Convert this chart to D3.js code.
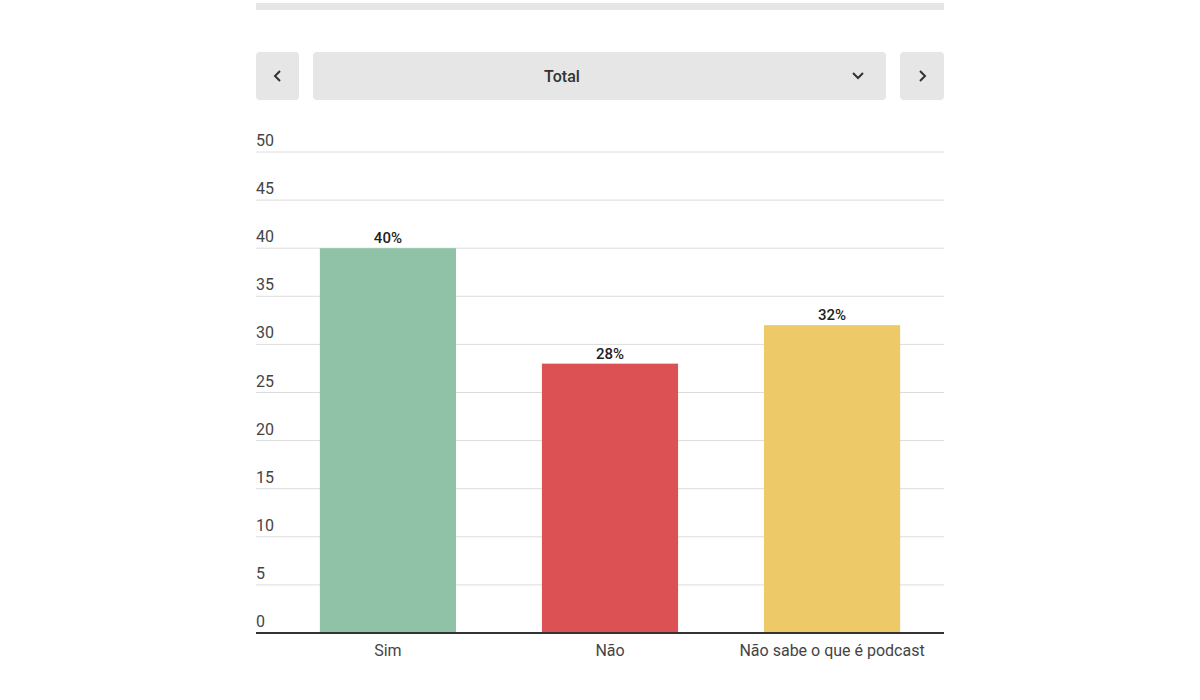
<!DOCTYPE html>
<html><head><meta charset="utf-8">
<script src="https://cdn.jsdelivr.net/npm/d3@7"></script>
<style>body{margin:0;background:#fff;font-family:Roboto,"Noto Sans",sans-serif;}</style>
</head><body><svg id="c" width="1200" height="700"></svg>
<script>
const categories = ["Sim", "Não", "Não sabe o que é podcast"];
const values = [40, 28, 32];
const colors = ["#8fc2a6", "#dc5254", "#eec968"];
const yTicks = [0, 5, 10, 15, 20, 25, 30, 35, 40, 45, 50];
const selectorLabel = "Total";

const svg = d3.select("#c");
const L = 256, R = 944, T = 152, B = 633;
svg.append("rect").attr("x", L).attr("y", 3).attr("width", R - L).attr("height", 7).attr("fill", "#e6e6e6");
// controls
svg.append("rect").attr("x", 256).attr("y", 52).attr("width", 43).attr("height", 48).attr("rx", 4).attr("fill", "#e6e6e6");
svg.append("rect").attr("x", 313).attr("y", 52).attr("width", 573).attr("height", 48).attr("rx", 4).attr("fill", "#e6e6e6");
svg.append("rect").attr("x", 900).attr("y", 52).attr("width", 44).attr("height", 48).attr("rx", 4).attr("fill", "#e6e6e6");
svg.append("path").attr("d", "M280,71 l-5,5 l5,5").attr("fill", "none").attr("stroke", "#333").attr("stroke-width", 2);
svg.append("path").attr("d", "M920,71 l5,5 l-5,5").attr("fill", "none").attr("stroke", "#333").attr("stroke-width", 2);
svg.append("path").attr("d", "M853,73 l5,5 l5,-5").attr("fill", "none").attr("stroke", "#333").attr("stroke-width", 2);
svg.append("text").attr("x", 562).attr("y", 82).attr("text-anchor", "middle").attr("font-size", 16).attr("font-weight", 500).attr("fill", "#333").text(selectorLabel);

const y = d3.scaleLinear().domain([0, 50]).range([B, T]);
const x = d3.scaleBand().domain(categories).range([277, 943]).paddingInner(0.387).paddingOuter(0.193);

const g = svg.append("g");
yTicks.forEach(t => {
  if (t > 0) g.append("line").attr("x1", L).attr("x2", R).attr("y1", y(t)).attr("y2", y(t)).attr("stroke", "#dcdcdc");
  g.append("text").attr("x", L).attr("y", y(t) - 6).attr("font-size", 16).attr("fill", "#444").text(t);
});
g.selectAll(".bar").data(values).join("rect")
  .attr("x", (d, i) => x(categories[i])).attr("width", x.bandwidth())
  .attr("y", d => y(d)).attr("height", d => B - y(d)).attr("fill", (d, i) => colors[i]);
g.selectAll(".lbl").data(values).join("text")
  .attr("x", (d, i) => x(categories[i]) + x.bandwidth() / 2).attr("y", d => y(d) - 5)
  .attr("text-anchor", "middle").attr("font-size", 15).attr("font-weight", 500).attr("fill", "#222").text(d => d + "%");
g.append("line").attr("x1", L).attr("x2", R).attr("y1", B).attr("y2", B).attr("stroke", "#333").attr("stroke-width", 2);
categories.forEach(c => g.append("text").attr("x", x(c) + x.bandwidth() / 2).attr("y", 656)
  .attr("text-anchor", "middle").attr("font-size", 16).attr("fill", "#444").text(c));
</script></body></html>
